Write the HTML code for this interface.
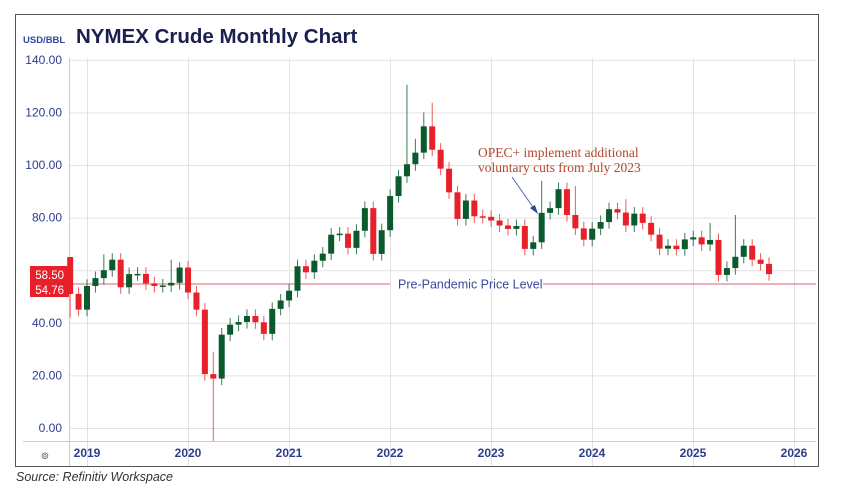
<!DOCTYPE html>
<html><head><meta charset="utf-8"><style>
body{margin:0;background:#fff;width:842px;height:494px;overflow:hidden;font-family:"Liberation Sans",sans-serif}
</style></head><body>
<svg id="s" width="842" height="494" xmlns="http://www.w3.org/2000/svg" font-family="Liberation Sans, sans-serif">
<rect x="15.5" y="14.5" width="803" height="452" fill="#fff" stroke="#555" stroke-width="1"/>
<text x="23" y="43" font-size="9.5" font-weight="bold" fill="#2e4a9c">USD/BBL</text>
<text x="76" y="43" font-size="20.5" font-weight="bold" fill="#1a1f4e">NYMEX Crude Monthly Chart</text>
<g id="grid"></g>
<line x1="69.5" y1="58" x2="69.5" y2="466" stroke="#ccc"/>
<line x1="23" y1="441.5" x2="816" y2="441.5" stroke="#ccc"/>
<line x1="69" y1="284" x2="390" y2="284" stroke="#e06070" stroke-width="1"/>
<line x1="543" y1="284" x2="816" y2="284" stroke="#e06070" stroke-width="1"/>
<text x="398" y="288.5" font-size="12.5" fill="#3a4a9c">Pre-Pandemic Price Level</text>
<g id="c"></g>
<rect x="30" y="266" width="39" height="31" fill="#e8202a"/>
<text x="64" y="279" font-size="11.5" fill="#fff" text-anchor="end">58.50</text>
<text x="64" y="294" font-size="11.5" fill="#fff" text-anchor="end">54.76</text>
<text x="478" y="157" font-size="13.5" fill="#b0482c" font-family="Liberation Serif, serif">OPEC+ implement additional</text>
<text x="478" y="172" font-size="13.5" fill="#b0482c" font-family="Liberation Serif, serif">voluntary cuts from July 2023</text>
<line x1="512" y1="177" x2="535" y2="210" stroke="#4a6ab0" stroke-width="1"/>
<polygon points="538,214 530,208 535,205" fill="#2a4a9c"/>
<text x="45" y="459" font-size="10" fill="#555" text-anchor="middle">⊚</text>
<text x="16" y="481" font-size="12.5" font-style="italic" fill="#333">Source: Refinitiv Workspace</text>
</svg>
<script>
var NS="http://www.w3.org/2000/svg";
function el(p,t,a,txt){var e=document.createElementNS(NS,t);for(var k in a)e.setAttribute(k,a[k]);if(txt)e.textContent=txt;document.getElementById(p).appendChild(e);}
function Y(v){return 428-v*2.63;}
for(var v=0;v<=140;v+=20){var y=Y(v);el("grid","line",{x1:69,y1:y+.5,x2:816,y2:y+.5,stroke:"#e2e2e2"});
if(v!=60)el("grid","text",{x:62,y:y+4,"font-size":12,fill:"#2e3c8c","text-anchor":"end"},v.toFixed(2));}
for(var i=0;i<8;i++){var x=87+i*101;el("grid","line",{x1:x+.5,y1:58,x2:x+.5,y2:466,stroke:"#e2e2e2"});
el("grid","text",{x:x,y:457,"font-size":12,"font-weight":"bold",fill:"#2e3c8c","text-anchor":"middle"},String(2019+i));}
var cl=[65,51,45,54,57,60,64,53.5,58.5,58.6,55,54,54.2,55.2,61,51.5,45,20.5,18.8,35.5,39.3,40.3,42.6,40.2,35.8,45.3,48.5,52.2,61.5,59.2,63.6,66.3,73.5,73.9,68.5,75,83.6,66.2,75.2,88.2,95.7,100.3,104.7,114.7,105.8,98.6,89.6,79.5,86.5,80.5,80.3,78.9,77,75.7,76.8,68.1,70.6,81.8,83.6,90.8,81,75.9,71.6,75.8,78.3,83.2,81.9,77,81.5,78,73.5,68.2,69.3,68,71.7,72.5,69.8,71.5,58.2,60.8,65.1,69.3,64,62.4,58.5];
var hi={0:66,1:54,5:66,13:64,14:63,18:29,41:130.5,42:110,43:120,44:123.7,57:94,61:92,67:87,77:78,80:81,85:78};
var lo={1:42,18:-5};
for(var i=1;i<cl.length;i++){
 var o=cl[i-1],c=cl[i],x=87+(i-3)*8.42;
 if(x<70)continue;
 var up=c>=o,col=up?"#0b5a2e":"#e8202a",wc=up?"#3d7a55":"#ee5a5a";
 var h=hi[i]||Math.max(o,c)+2.5,l=(i in lo)?lo[i]:Math.min(o,c)-2.5;
 el("c","line",{x1:x,y1:Y(h),x2:x,y2:Math.min(Y(l),441),stroke:wc,"stroke-width":1});
 var t=Y(Math.max(o,c)),b=Y(Math.min(o,c));if(b-t<1.5)b=t+1.5;
 el("c","rect",{x:x-3,y:t,width:6,height:b-t,fill:col});
}
el("c","rect",{x:69,y:Y(65),width:3,height:Y(51)-Y(65),fill:"#e8202a"});
</script>
</body></html>
